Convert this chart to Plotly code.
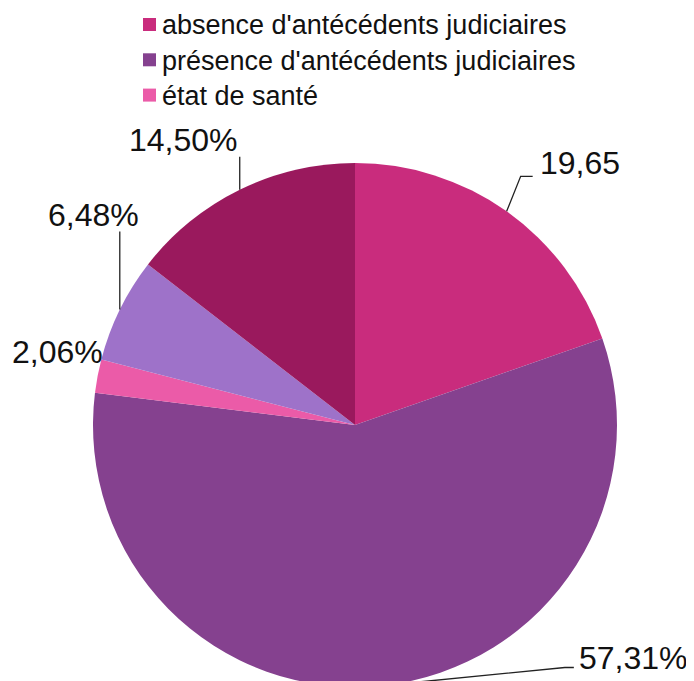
import math

import plotly.graph_objects as go

# slice data, clockwise from 12 o'clock
values = [19.65, 57.31, 2.06, 6.48, 14.50]
slice_labels = ["19,65", "57,31%", "2,06%", "6,48%", "14,50%"]
slice_colors = ["#C92C7D", "#85418F", "#EB5BA8", "#9E72C9", "#9A195D"]

# only the first three slices are named in the legend
legend_names = [
    "absence d'antécédents judiciaires",
    "présence d'antécédents judiciaires",
    "état de santé",
]

W, H = 694, 681
OFF = 8  # page body margin: the figure starts 8px in from the window corner
FONT = "Liberation Sans, Arial, Helvetica, sans-serif"

# pie geometry in window pixels
CX, CY, R = 355, 425, 262

# label placement relative to the slice's outer edge point (pixels):
# (text dx, text dy, xanchor, leader line points)
label_style = [
    (31, -48, "left", [(14, -35), (26, -35)]),
    (194, -28, "left", [(182, -18), (191, -18)]),
    (7, -24, "right", []),
    (-26, -95, "center", [(0, -78)]),
    (-56, -50, "center", [(0, -33)]),
]

# hand-drawn legend (the real one cannot sit high enough without shrinking the pie)
LEG_X, LEG_Y0, LEG_STEP, LEG_BOX = 143, 24.5, 35.3, 13


def px(x, y):
    """window pixels -> paper coordinates"""
    return (x - OFF) / W, 1 - (y - OFF) / H


fig = go.Figure()

x0, y1 = px(CX - R, CY - R)
x1, y0 = px(CX + R, CY + R)
fig.add_trace(go.Pie(
    values=values,
    labels=[f"s{i}" for i in range(len(values))],
    marker=dict(colors=slice_colors, line=dict(width=0)),
    sort=False, direction="clockwise", rotation=0,
    textinfo="none", hoverinfo="skip", showlegend=False,
    domain=dict(x=[x0, x1], y=[max(y0, 0), y1]),
))

total = sum(values)
cum = 0.0
shapes = []
annotations = []
for v, text, (dx, dy, anchor, pts) in zip(values, slice_labels, label_style):
    mid = (cum + v / 2) / total * 2 * math.pi
    cum += v
    ex = CX + R * math.sin(mid)
    ey = CY - R * math.cos(mid)
    tx, ty = px(ex + dx, ey + dy)
    annotations.append(dict(
        x=tx, y=ty, xref="paper", yref="paper", text=text, showarrow=False,
        xanchor=anchor, yanchor="middle", font=dict(size=32, color="#111111", family=FONT),
    ))
    if pts:
        path_pts = [(ex, ey)] + [(ex + ox, ey + oy) for ox, oy in pts]
        path = " ".join(
            ("M" if i == 0 else "L") + f"{px(a, b)[0]},{px(a, b)[1]}"
            for i, (a, b) in enumerate(path_pts)
        )
        shapes.append(dict(type="path", path=path, xref="paper", yref="paper",
                           line=dict(color="#222222", width=1.3)))

for i, (name, color) in enumerate(zip(legend_names, slice_colors)):
    yc = LEG_Y0 + i * LEG_STEP
    bx0, by1 = px(LEG_X, yc - LEG_BOX / 2)
    bx1, by0 = px(LEG_X + LEG_BOX, yc + LEG_BOX / 2)
    shapes.append(dict(type="rect", xref="paper", yref="paper",
                       x0=bx0, x1=bx1, y0=by0, y1=by1,
                       fillcolor=color, line=dict(width=0)))
    tx, ty = px(LEG_X + LEG_BOX + 4, yc + 1)
    annotations.append(dict(
        x=tx, y=ty, xref="paper", yref="paper", text=name, showarrow=False,
        xanchor="left", yanchor="middle", font=dict(size=27, color="#111111", family=FONT),
    ))

fig.update_layout(
    width=W, height=H,
    margin=dict(l=0, r=0, t=0, b=0),
    paper_bgcolor="white", plot_bgcolor="white",
    font=dict(family=FONT, color="#111111"),
    showlegend=False,
    shapes=shapes, annotations=annotations,
)

fig.write_html("out.html")
